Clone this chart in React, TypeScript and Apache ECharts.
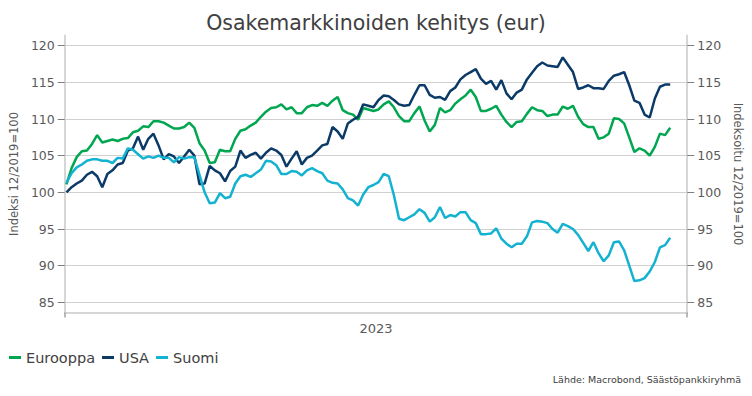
import React, { useEffect, useRef } from 'react';
import * as echarts from 'echarts';

const titleText = 'Osakemarkkinoiden kehitys (eur)';
const sourceText = 'Lähde: Macrobond, Säästöpankkiryhmä';
const leftAxisName = 'Indeksi 12/2019=100';
const rightAxisName = 'Indeksoitu 12/2019=100';
const yearLabels = ['2023'];
const yTicks = [85, 90, 95, 100, 105, 110, 115, 120];
const yMin = 83.6;
const yMax = 121.4;
const daysInYear = 365;
const startDay = 1;
const stepDays = 3;

const eurooppa = [
  101.1, 103.3, 104.8, 105.6, 105.7, 106.6, 107.8, 106.8, 107.0, 107.2,
  107.0, 107.3, 107.4, 108.2, 108.4, 109.0, 108.9, 109.7, 109.7, 109.5,
  109.1, 108.7, 108.7, 108.9, 109.5, 108.8, 106.7, 105.7, 104.0, 104.1,
  105.8, 105.6, 105.6, 107.3, 108.4, 108.6, 109.1, 109.5, 110.3, 111.0,
  111.5, 111.6, 112.0, 111.3, 111.6, 110.8, 110.8, 111.6, 111.9, 111.8,
  112.2, 111.8, 112.5, 113.0, 111.2, 110.8, 110.6, 109.9, 111.5, 111.3,
  111.1, 111.3, 112.0, 112.4, 111.6, 110.4, 109.7, 109.7, 110.8, 111.7,
  109.8, 108.3, 109.2, 111.5, 110.9, 111.2, 112.1, 112.7, 113.2, 114.0,
  113.0, 111.1, 111.1, 111.4, 111.8, 110.6, 109.6, 108.9, 109.6, 109.7,
  110.7, 111.6, 111.2, 111.1, 110.4, 110.6, 110.6, 111.7, 111.4, 111.8,
  110.3, 109.3, 108.9, 108.9, 107.3, 107.5, 108.0, 110.1, 110.0, 109.4,
  107.5, 105.5, 106.0, 105.7, 105.0, 106.2, 108.0, 107.8, 108.8,
];

const usa = [
  100.0, 100.7, 101.2, 101.6, 102.4, 102.8, 102.2, 100.7, 102.5, 103.0,
  103.8, 104.0, 105.7, 106.0, 107.6, 105.8, 107.3, 108.0, 106.4, 104.5,
  105.2, 104.9, 104.0, 104.9, 105.8, 105.0, 101.1, 101.2, 103.6, 103.0,
  102.6, 101.5, 102.9, 103.5, 105.7, 104.7, 105.1, 105.4, 104.6, 105.4,
  106.0, 105.7, 105.1, 103.5, 104.6, 105.6, 103.8, 104.7, 105.0, 105.7,
  106.4, 106.6, 108.9, 108.3, 107.3, 109.4, 109.9, 110.3, 112.0, 111.8,
  111.6, 112.6, 113.2, 113.1, 112.6, 112.0, 111.8, 111.9, 113.3, 114.6,
  114.6, 113.3, 112.9, 113.0, 112.6, 113.8, 114.3, 115.4, 116.0, 116.4,
  116.8, 115.5, 114.8, 115.2, 114.0, 115.3, 113.5, 112.7, 113.6, 114.0,
  115.4, 116.3, 117.2, 117.7, 117.3, 117.2, 117.1, 118.4, 117.4, 116.4,
  114.1, 114.3, 114.6, 114.2, 114.2, 114.1, 115.2, 115.9, 116.1, 116.4,
  114.6, 112.5, 112.2, 110.6, 110.2, 112.8, 114.4, 114.7, 114.7,
];

const suomi = [
  101.3, 102.6, 103.4, 103.8, 104.3, 104.5, 104.5, 104.3, 104.3, 104.0,
  104.7, 104.6, 106.0, 105.8, 105.2, 104.6, 104.9, 104.7, 105.0, 104.7,
  104.7, 104.1, 104.8, 104.6, 104.8, 104.8, 102.4, 100.0, 98.5, 98.6,
  99.9, 99.2, 99.4, 101.2, 102.2, 102.4, 102.1, 102.6, 103.1, 104.3,
  104.2, 103.7, 102.5, 102.5, 102.9, 102.8, 102.3, 103.0, 103.3, 102.9,
  102.6, 101.6, 101.3, 101.2, 100.4, 99.2, 98.9, 98.2, 99.7, 100.7,
  101.0, 101.4, 102.5, 102.2, 99.6, 96.4, 96.2, 96.6, 97.0, 97.7,
  97.2, 96.0, 96.6, 98.0, 96.5, 96.9, 96.7, 97.3, 97.3, 96.2,
  95.8, 94.3, 94.3, 94.4, 95.1, 93.7, 93.0, 92.5, 93.0, 93.0,
  94.0, 95.9, 96.1, 96.0, 95.8, 95.0, 94.5, 95.7, 95.4, 95.0,
  94.2, 93.1, 92.0, 93.2, 91.7, 90.6, 91.4, 93.2, 93.3, 92.1,
  90.0, 87.9, 88.0, 88.3, 89.2, 90.5, 92.5, 92.8, 93.8,
];

const FONT = 'DejaVu Sans';
const TEXT = '#595959';

export default function App() {
  const ref = useRef<HTMLDivElement>(null);

  useEffect(() => {
    document.body.style.margin = '0';
    if (!ref.current) return;
    const chart = echarts.init(ref.current, null, { renderer: 'svg' });
    const days = eurooppa.map((_, i) => startDay + i * stepDays);
    const pairs = (arr: number[]) => arr.map((v, i) => [days[i], v]);

    const yAxisCommon = {
      type: 'value',
      min: yMin,
      max: yMax,
      axisLine: { show: true, lineStyle: { color: '#d6d6d6', width: 2 } },
      axisTick: {
        show: true,
        length: 7,
        customValues: yTicks,
        lineStyle: { color: '#7f7f7f', width: 1 },
      },
      axisLabel: {
        customValues: yTicks,
        color: TEXT,
        fontSize: 12.5,
        fontFamily: FONT,
        margin: 10,
      },
      nameLocation: 'middle',
      nameTextStyle: { color: TEXT, fontSize: 11.5, fontFamily: FONT },
    };

    chart.setOption({
      animation: false,
      backgroundColor: '#ffffff',
      title: {
        text: titleText,
        left: 'center',
        top: 7,
        textStyle: { fontFamily: FONT, fontSize: 20.5, fontWeight: 'normal', color: '#404040' },
      },
      grid: { left: 59.5, right: 60, top: 35.4, bottom: 83.4, containLabel: false },
      legend: {
        left: 4,
        top: 345,
        icon: 'rect',
        itemWidth: 12,
        itemHeight: 3,
        itemGap: 7,
        textStyle: { fontFamily: FONT, fontSize: 14.5, color: '#404040' },
        data: ['Eurooppa', 'USA', 'Suomi'],
      },
      xAxis: [
        {
          type: 'category',
          data: yearLabels,
          boundaryGap: true,
          axisLine: { show: true, lineStyle: { color: '#d6d6d6', width: 2 } },
          axisTick: { show: true, length: 5, lineStyle: { color: '#a0a0a0', width: 1.5 } },
          axisLabel: { color: TEXT, fontSize: 13, fontFamily: FONT, margin: 9 },
          splitLine: { show: false },
        },
        { type: 'value', min: 0, max: daysInYear, show: false },
      ],
      yAxis: [
        {
          ...yAxisCommon,
          position: 'left',
          name: leftAxisName,
          nameRotate: 90,
          nameGap: 38,
          splitLine: { show: true, lineStyle: { color: '#d0d0d0', width: 1 } },
        },
        {
          ...yAxisCommon,
          position: 'right',
          name: rightAxisName,
          nameRotate: -90,
          nameGap: 38,
          splitLine: { show: false },
        },
      ],
      series: [
        {
          name: 'Eurooppa',
          type: 'line',
          xAxisIndex: 1,
          yAxisIndex: 0,
          data: pairs(eurooppa),
          showSymbol: false,
          color: '#00a650',
          lineStyle: { width: 2.5, color: '#00a650' },
        },
        {
          name: 'USA',
          type: 'line',
          xAxisIndex: 1,
          yAxisIndex: 0,
          data: pairs(usa),
          showSymbol: false,
          color: '#0b3a66',
          lineStyle: { width: 2.5, color: '#0b3a66' },
        },
        {
          name: 'Suomi',
          type: 'line',
          xAxisIndex: 1,
          yAxisIndex: 0,
          data: pairs(suomi),
          showSymbol: false,
          color: '#13b2d1',
          lineStyle: { width: 2.5, color: '#13b2d1' },
        },
      ],
      graphic: [
        {
          type: 'text',
          right: 11,
          top: 374,
          style: { text: sourceText, fontFamily: FONT, fontSize: 9.5, fill: '#404040' },
        },
      ],
    });

    return () => chart.dispose();
  }, []);

  return <div ref={ref} style={{ width: 752, height: 396 }} />;
}
